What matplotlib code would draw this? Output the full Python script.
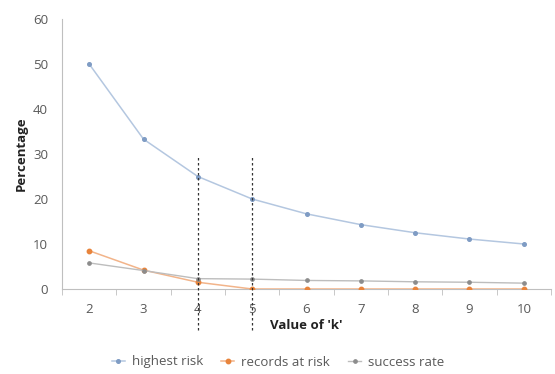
import matplotlib
matplotlib.use("Agg")
import matplotlib.pyplot as plt
from matplotlib.ticker import FixedLocator

plt.rcParams['font.family'] = ['Open Sans', 'DejaVu Sans']

k_values = [2, 3, 4, 5, 6, 7, 8, 9, 10]
highest_risk = [50.0, 33.3, 25.0, 20.0, 16.7, 14.3, 12.5, 11.1, 10.0]
records_at_risk = [8.5, 4.2, 1.5, 0.0, 0.0, 0.0, 0.0, 0.0, 0.0]
success_rate = [5.8, 4.1, 2.3, 2.2, 1.9, 1.8, 1.6, 1.5, 1.3]
marked_k = [4, 5]

fig = plt.figure(figsize=(5.55, 3.74), dpi=100)
ax = fig.add_axes([62 / 555, 1 - 289 / 374, (551 - 62) / 555, (289 - 19) / 374])

ax.plot(k_values, highest_risk, color='#b4c7e0', lw=1.1, marker='o', ms=2.6,
        mfc='#7f9cc4', mec='#7f9cc4', label='highest risk', zorder=3)
ax.plot(k_values, records_at_risk, color='#f2b48a', lw=1.1, marker='o', ms=3.2,
        mfc='#e8843c', mec='#e8843c', label='records at risk', zorder=3)
ax.plot(k_values, success_rate, color='#bdbdbd', lw=1.0, marker='o', ms=2.4,
        mfc='#8c8c8c', mec='#8c8c8c', label='success rate', zorder=3)

for k in marked_k:
    ax.plot([k, k], [-9, 29.5], color='#333333', lw=0.9, ls=(0, (2, 2)),
            clip_on=False, zorder=4)

ax.set_xlim(1.5, 10.5)
ax.set_ylim(0, 60)
ax.set_yticks(range(0, 61, 10))
ax.set_xticks(k_values)
ax.xaxis.set_minor_locator(FixedLocator([x + 0.5 for x in range(1, 11)]))
ax.tick_params(axis='x', which='major', length=0, pad=10, labelsize=9.5, labelcolor='#595959')
ax.tick_params(axis='x', which='minor', length=4, color='#bfbfbf', direction='out')
ax.tick_params(axis='y', length=0, pad=10, labelsize=9.5, labelcolor='#595959')

for side in ['top', 'right']:
    ax.spines[side].set_visible(False)
ax.spines['left'].set_color('#bfbfbf')
ax.spines['bottom'].set_color('#bfbfbf')

ax.set_ylabel('Percentage', fontsize=9.5, fontweight='bold', color='#222222', labelpad=4)
ax.set_xlabel("Value of 'k'", fontsize=9.5, fontweight='bold', color='#222222', labelpad=2)

fig.legend(loc='center', bbox_to_anchor=(278 / 555, 1 - 362 / 374), ncol=3,
           frameon=False, fontsize=9.5, handlelength=1.0, handletextpad=0.5,
           columnspacing=1.4, labelcolor='#595959')

fig.savefig('out.png', dpi=100, facecolor='white')
